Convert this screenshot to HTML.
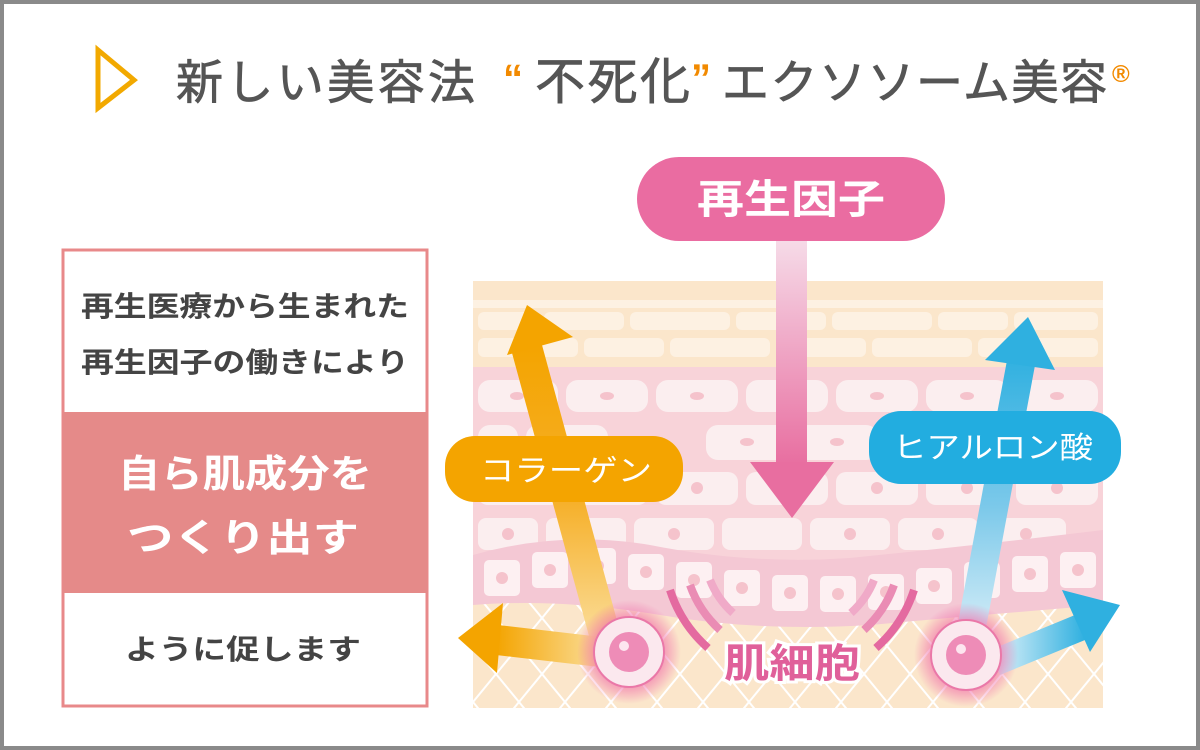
<!DOCTYPE html>
<html><head><meta charset="utf-8"><style>
html,body{margin:0;padding:0;background:#fff;}
svg{display:block;}
text{font-family:"Liberation Sans","Noto Sans CJK JP",sans-serif;}
</style></head><body>
<svg width="1200" height="750" viewBox="0 0 1200 750" xmlns="http://www.w3.org/2000/svg">
<defs>
<linearGradient id="pg" x1="0" y1="0" x2="0" y2="1"><stop offset="0" stop-color="#f6dbe8"/><stop offset="1" stop-color="#e86ea0"/></linearGradient>
<linearGradient id="og" x1="0" y1="1" x2="0" y2="0"><stop offset="0" stop-color="#fbe3a8"/><stop offset="0.5" stop-color="#f6b02a"/><stop offset="1" stop-color="#f4a400"/></linearGradient>
<linearGradient id="og2" x1="1" y1="0" x2="0" y2="0"><stop offset="0" stop-color="#fbe3a8"/><stop offset="1" stop-color="#f4a400"/></linearGradient>
<linearGradient id="bg" x1="0" y1="1" x2="0" y2="0"><stop offset="0" stop-color="#e6f4fa"/><stop offset="0.5" stop-color="#7cc9ea"/><stop offset="1" stop-color="#2fb0e0"/></linearGradient>
<linearGradient id="bg2" x1="0" y1="0" x2="1" y2="0"><stop offset="0" stop-color="#e6f4fa"/><stop offset="1" stop-color="#2fb0e0"/></linearGradient>
<radialGradient id="glow"><stop offset="0.5" stop-color="#f06aa8" stop-opacity="0.9"/><stop offset="1" stop-color="#f06aa8" stop-opacity="0"/></radialGradient>
<pattern id="lat" width="46" height="56" patternUnits="userSpaceOnUse" x="473" y="590">
<rect width="46" height="56" fill="#fbe6cb"/>
<path d="M0,0 L46,56 M46,0 L0,56" stroke="#fff" stroke-width="2"/>
</pattern>
<clipPath id="panel"><rect x="473" y="281" width="630" height="427"/></clipPath>
</defs>
<rect x="0" y="0" width="1200" height="750" fill="#8a8a8a"/>
<rect x="4" y="4" width="1192" height="742" fill="#fff"/>
<!-- title -->
<path d="M98,50 L134,80 L98,108 Z" fill="none" stroke="#f2a900" stroke-width="5" stroke-linejoin="miter"/>
<g fill="#555" stroke="#555" stroke-width="0.8">
<text x="176" y="99" font-size="47" textLength="299" lengthAdjust="spacing">新しい美容法</text>
<text x="535" y="99" font-size="50" textLength="155" lengthAdjust="spacing">不死化</text>
<text x="722" y="99" font-size="47" textLength="385" lengthAdjust="spacing">エクソソーム美容</text>
</g>
<text x="503" y="92" font-size="40" fill="#f28a00" font-weight="bold">“</text>
<text x="691" y="92" font-size="40" fill="#f28a00" font-weight="bold">”</text>
<text x="1112" y="82" font-size="24" fill="#f28a00" font-weight="bold">®</text>
<!-- left box -->
<rect x="63" y="250" width="364" height="456" fill="#fff" stroke="#e8898a" stroke-width="3"/>
<rect x="63" y="412" width="364" height="181" fill="#e58a89"/>
<text x="245" y="316" font-size="28" font-weight="bold" fill="#444" text-anchor="middle" textLength="328" lengthAdjust="spacingAndGlyphs">再生医療から生まれた</text>
<text x="245" y="372" font-size="28" font-weight="bold" fill="#444" text-anchor="middle" textLength="328" lengthAdjust="spacingAndGlyphs">再生因子の働きにより</text>
<text x="245" y="487" font-size="38" font-weight="bold" fill="#fff" text-anchor="middle" textLength="254" lengthAdjust="spacingAndGlyphs">自ら肌成分を</text>
<text x="243" y="551" font-size="38" font-weight="bold" fill="#fff" text-anchor="middle" textLength="232" lengthAdjust="spacingAndGlyphs">つくり出す</text>
<text x="243" y="659" font-size="28" font-weight="bold" fill="#444" text-anchor="middle" textLength="236" lengthAdjust="spacingAndGlyphs">ように促します</text>
<!-- skin panel -->
<g clip-path="url(#panel)">
<rect x="473" y="281" width="630" height="427" fill="url(#lat)"/>
<rect x="473" y="281" width="630" height="86" fill="#fbe6cb"/>
<rect x="473" y="300" width="630" height="8" fill="#fdf1e2"/>
<g fill="#fdf1e2">
<rect x="478" y="312" width="60" height="18" rx="6"/><rect x="544" y="312" width="80" height="18" rx="6"/><rect x="630" y="312" width="100" height="18" rx="6"/><rect x="736" y="312" width="90" height="18" rx="6"/><rect x="832" y="312" width="100" height="18" rx="6"/><rect x="938" y="312" width="70" height="18" rx="6"/><rect x="1014" y="312" width="84" height="18" rx="6"/>
<rect x="478" y="338" width="100" height="19" rx="6"/><rect x="584" y="338" width="80" height="19" rx="6"/><rect x="670" y="338" width="100" height="19" rx="6"/><rect x="776" y="338" width="90" height="19" rx="6"/><rect x="872" y="338" width="100" height="19" rx="6"/><rect x="978" y="338" width="120" height="19" rx="6"/>
</g>
<rect x="473" y="367" width="630" height="200" fill="#f8d3d9"/>
<g fill="#fbeeef">
<rect x="478" y="380" width="80" height="32" rx="12"/><rect x="566" y="380" width="82" height="32" rx="12"/><rect x="656" y="380" width="82" height="32" rx="12"/><rect x="746" y="380" width="82" height="32" rx="12"/><rect x="836" y="380" width="82" height="32" rx="12"/><rect x="926" y="380" width="82" height="32" rx="12"/><rect x="1016" y="380" width="82" height="32" rx="12"/>
<rect x="478" y="425" width="40" height="35" rx="12"/><rect x="526" y="425" width="82" height="35" rx="12"/><rect x="706" y="425" width="82" height="35" rx="12"/><rect x="796" y="425" width="82" height="35" rx="12"/><rect x="886" y="425" width="82" height="35" rx="12"/><rect x="976" y="425" width="82" height="35" rx="12"/><rect x="1066" y="425" width="40" height="35" rx="12"/>
<rect x="478" y="472" width="82" height="33" rx="10"/><rect x="566" y="472" width="82" height="33" rx="10"/><rect x="656" y="472" width="82" height="33" rx="10"/><rect x="746" y="472" width="82" height="33" rx="10"/><rect x="836" y="472" width="82" height="33" rx="10"/><rect x="926" y="472" width="82" height="33" rx="10"/><rect x="1016" y="472" width="82" height="33" rx="10"/>
<rect x="478" y="518" width="60" height="32" rx="8"/><rect x="546" y="518" width="80" height="32" rx="8"/><rect x="634" y="518" width="80" height="32" rx="8"/><rect x="722" y="518" width="80" height="32" rx="8"/><rect x="810" y="518" width="80" height="32" rx="8"/><rect x="898" y="518" width="80" height="32" rx="8"/><rect x="986" y="518" width="80" height="32" rx="8"/>
</g>
<g fill="#f5c3cc">
<ellipse cx="517" cy="396" rx="7" ry="4"/><ellipse cx="607" cy="396" rx="7" ry="4"/><ellipse cx="697" cy="396" rx="7" ry="4"/><ellipse cx="787" cy="396" rx="7" ry="4"/><ellipse cx="877" cy="396" rx="7" ry="4"/><ellipse cx="967" cy="396" rx="7" ry="4"/><ellipse cx="1057" cy="396" rx="7" ry="4"/>
<ellipse cx="567" cy="442" rx="7" ry="4"/><ellipse cx="747" cy="442" rx="7" ry="4"/><ellipse cx="837" cy="442" rx="7" ry="4"/><ellipse cx="927" cy="442" rx="7" ry="4"/><ellipse cx="1017" cy="442" rx="7" ry="4"/>
<circle cx="519" cy="488" r="6"/><circle cx="607" cy="488" r="6"/><circle cx="697" cy="488" r="6"/><circle cx="877" cy="488" r="6"/><circle cx="967" cy="488" r="6"/><circle cx="1057" cy="488" r="6"/>
<circle cx="508" cy="534" r="6"/><circle cx="586" cy="534" r="6"/><circle cx="674" cy="534" r="6"/><circle cx="850" cy="534" r="6"/><circle cx="938" cy="534" r="6"/><circle cx="1026" cy="534" r="6"/>
</g>
<path d="M473,555 Q560,530 650,545 Q750,565 850,558 Q980,545 1103,530 L1103,605 Q980,615 870,625 Q760,632 660,615 Q560,598 473,605 Z" fill="#f4c8d4"/>
<g fill="#fdf0f2">
<rect x="484" y="560" width="36" height="36" rx="5"/><rect x="532" y="552" width="36" height="36" rx="5"/><rect x="580" y="548" width="36" height="36" rx="5"/><rect x="628" y="554" width="36" height="36" rx="5"/><rect x="676" y="562" width="36" height="36" rx="5"/><rect x="724" y="570" width="36" height="36" rx="5"/><rect x="772" y="575" width="36" height="36" rx="5"/><rect x="820" y="576" width="36" height="36" rx="5"/><rect x="868" y="574" width="36" height="36" rx="5"/><rect x="916" y="568" width="36" height="36" rx="5"/><rect x="964" y="562" width="36" height="36" rx="5"/><rect x="1012" y="556" width="36" height="36" rx="5"/><rect x="1060" y="552" width="36" height="36" rx="5"/>
</g>
<g fill="#f5c3cc">
<circle cx="502" cy="578" r="6"/><circle cx="550" cy="570" r="6"/><circle cx="598" cy="566" r="6"/><circle cx="646" cy="572" r="6"/><circle cx="694" cy="580" r="6"/><circle cx="742" cy="588" r="6"/><circle cx="790" cy="593" r="6"/><circle cx="838" cy="594" r="6"/><circle cx="886" cy="592" r="6"/><circle cx="934" cy="586" r="6"/><circle cx="982" cy="580" r="6"/><circle cx="1030" cy="574" r="6"/><circle cx="1078" cy="570" r="6"/>
</g>
</g>
<!-- pink arrow -->
<rect x="776" y="240" width="31" height="225" fill="url(#pg)"/>
<path d="M750,462 L834,462 L792,518 Z" fill="#e86ea0"/>
<!-- waves -->
<g fill="none" stroke="#e46aa0" stroke-width="8">
<path d="M670,590 A132,132 0 0 0 708,648"/>
<path d="M690,585 A110,110 0 0 0 720,630" stroke="#ea8cb4"/>
<path d="M710,580 A88,88 0 0 0 733,613" stroke="#f0aac8"/>
<path d="M914,590 A132,132 0 0 1 876,648"/>
<path d="M894,585 A110,110 0 0 1 864,630" stroke="#ea8cb4"/>
<path d="M874,580 A88,88 0 0 1 851,613" stroke="#f0aac8"/>
</g>
<!-- orange arrows -->
<path d="M625,650 L542,345 L512,353 L595,658 Z" fill="url(#og)"/>
<path d="M527,305 L507,355 L573,337 Z" fill="#f4a400"/>
<path d="M610,638 L498,625 L496,655 L608,668 Z" fill="url(#og2)"/>
<path d="M458,638 L503,603 L497,673 Z" fill="#f4a400"/>
<!-- blue arrows -->
<path d="M952,655 L1008,355 L1036,360 L980,660 Z" fill="url(#bg)"/>
<path d="M1028,317 L985,360 L1055,370 Z" fill="#2fb0e0"/>
<path d="M990,650 L1075,615 L1085,640 L1000,675 Z" fill="url(#bg2)"/>
<path d="M1120,605 L1062,590 L1090,652 Z" fill="#2fb0e0"/>
<!-- pills -->
<rect x="637" y="157" width="308" height="84" rx="42" fill="#ea6ca1"/>
<text x="791" y="213" font-size="40" font-weight="bold" fill="#fff" text-anchor="middle" textLength="188" lengthAdjust="spacingAndGlyphs">再生因子</text>
<rect x="445" y="436" width="238" height="66" rx="30" fill="#f4a400"/>
<text x="566" y="481" font-size="30" fill="#fff" text-anchor="middle" textLength="172" lengthAdjust="spacingAndGlyphs">コラーゲン</text>
<rect x="869" y="411" width="252" height="73" rx="32" fill="#22ade0"/>
<text x="993" y="458" font-size="30" fill="#fff" text-anchor="middle" textLength="200" lengthAdjust="spacingAndGlyphs">ヒアルロン酸</text>
<!-- cells -->
<circle cx="629" cy="652" r="52" fill="url(#glow)"/>
<circle cx="629" cy="652" r="35" fill="#fbe8ee" stroke="#ea78a8" stroke-width="2"/>
<circle cx="629" cy="652" r="20" fill="#ee8cb7"/>
<circle cx="624" cy="646" r="5" fill="#fde5ef"/>
<circle cx="966" cy="655" r="52" fill="url(#glow)"/>
<circle cx="966" cy="655" r="35" fill="#fbe8ee" stroke="#ea78a8" stroke-width="2"/>
<circle cx="966" cy="655" r="20" fill="#ee8cb7"/>
<circle cx="961" cy="649" r="5" fill="#fde5ef"/>
<text x="792" y="677" font-size="40" font-weight="bold" fill="#e0609a" stroke="#fff" stroke-width="6" paint-order="stroke" text-anchor="middle" textLength="136" lengthAdjust="spacingAndGlyphs">肌細胞</text>
</svg>
</body></html>
